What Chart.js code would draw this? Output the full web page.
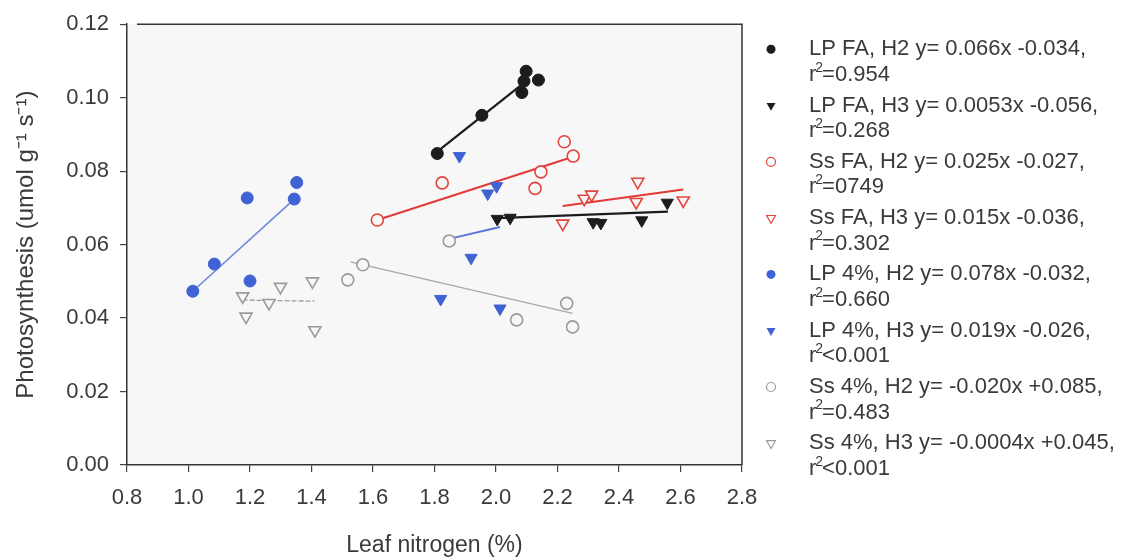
<!DOCTYPE html>
<html>
<head>
<meta charset="utf-8">
<script src="https://cdn.jsdelivr.net/npm/chart.js@4.4.1/dist/chart.umd.min.js"></script>
<style>
  html, body { margin: 0; padding: 0; background: #ffffff; }
  #wrap { width: 1126px; height: 559px; position: relative; }
</style>
</head>
<body>
<div id="wrap"><canvas id="c" width="1126" height="559"></canvas></div>
<script>
// Leaf nitrogen (%) vs photosynthesis for each treatment group
const lpFaH2X = [1.809, 1.954, 2.084, 2.091, 2.098, 2.138];
const lpFaH2Y = [0.0848, 0.0952, 0.1014, 0.1045, 0.1072, 0.1048];
const lpFaH3X = [2.004, 2.046, 2.316, 2.341, 2.474, 2.557];
const lpFaH3Y = [0.0670, 0.0673, 0.0661, 0.0659, 0.0666, 0.0714];
const ssFaH2X = [1.614, 1.825, 2.127, 2.146, 2.222, 2.251];
const ssFaH2Y = [0.0667, 0.0768, 0.0753, 0.0798, 0.0880, 0.0841];
const ssFaH3X = [2.217, 2.287, 2.311, 2.456, 2.461, 2.609];
const ssFaH3Y = [0.0657, 0.0725, 0.0736, 0.0716, 0.0771, 0.0720];
const lp4H2X = [1.014, 1.084, 1.191, 1.200, 1.344, 1.352];
const lp4H2Y = [0.0473, 0.0547, 0.0727, 0.0501, 0.0724, 0.0769];
const lp4H3X = [1.820, 1.881, 1.919, 1.973, 2.002, 2.013];
const lp4H3Y = [0.0452, 0.0841, 0.0564, 0.0739, 0.0759, 0.0426];
const ss4H2X = [1.518, 1.567, 1.848, 2.067, 2.230, 2.249];
const ss4H2Y = [0.0504, 0.0545, 0.0610, 0.0395, 0.0440, 0.0376];
const ss4H3X = [1.176, 1.187, 1.262, 1.299, 1.403, 1.411];
const ss4H3Y = [0.0459, 0.0404, 0.0441, 0.0485, 0.0500, 0.0367];

// Regression line end points (x range of each group)
const lpFaH2FitX = [1.809, 2.098];  const lpFaH2FitY = [0.0853, 0.1045];
const lpFaH3FitX = [2.004, 2.559];  const lpFaH3FitY = [0.0672, 0.0690];
const ssFaH2FitX = [1.614, 2.251];  const ssFaH2FitY = [0.0667, 0.0839];
const ssFaH3FitX = [2.217, 2.609];  const ssFaH3FitY = [0.0705, 0.0750];
const lp4H2FitX  = [1.014, 1.344];  const lp4H2FitY  = [0.0473, 0.0724];
const lp4H3FitX  = [1.855, 2.013];  const lp4H3FitY  = [0.0617, 0.0648];
const ss4H2FitX  = [1.527, 2.249];  const ss4H2FitY  = [0.0553, 0.0413];
const ss4H3FitX  = [1.176, 1.410];  const ss4H3FitY  = [0.0449, 0.0446];

// Legend text
const seriesNames = ['LP FA, H2', 'LP FA, H3', 'Ss FA, H2', 'Ss FA, H3',
                     'LP 4%, H2', 'LP 4%, H3', 'Ss 4%, H2', 'Ss 4%, H3'];
const fitEquations = ['y= 0.066x -0.034,', 'y= 0.0053x -0.056,', 'y= 0.025x -0.027,',
                      'y= 0.015x -0.036,', 'y= 0.078x -0.032,', 'y= 0.019x -0.026,',
                      'y= -0.020x +0.085,', 'y= -0.0004x +0.045,'];
const fitR2 = ['=0.954', '=0.268', '=0749', '=0.302', '=0.660', '<0.001', '=0.483', '<0.001'];

// Axis ranges
const xMin = 0.8, xMax = 2.8, xStep = 0.2;
const yMin = 0.0, yMax = 0.12, yStep = 0.02;

const pts = (xs, ys) => xs.map((v, i) => ({ x: v, y: ys[i] }));

const BLACK = '#1c1c1c', RED = '#e2453d', BLUE = '#3f62d4', GRAY = '#9a9a9a';
const series = [
  { x: lpFaH2X, y: lpFaH2Y, fx: lpFaH2FitX, fy: lpFaH2FitY, shape: 'circle',   color: BLACK, filled: true,  lineColor: '#1c1c1c', lw: 2.2 },
  { x: lpFaH3X, y: lpFaH3Y, fx: lpFaH3FitX, fy: lpFaH3FitY, shape: 'triangle', color: BLACK, filled: true,  lineColor: '#1c1c1c', lw: 2.2 },
  { x: ssFaH2X, y: ssFaH2Y, fx: ssFaH2FitX, fy: ssFaH2FitY, shape: 'circle',   color: RED,   filled: false, lineColor: '#e23a36', lw: 2.0 },
  { x: ssFaH3X, y: ssFaH3Y, fx: ssFaH3FitX, fy: ssFaH3FitY, shape: 'triangle', color: RED,   filled: false, lineColor: '#e23a36', lw: 2.0 },
  { x: lp4H2X,  y: lp4H2Y,  fx: lp4H2FitX,  fy: lp4H2FitY,  shape: 'circle',   color: BLUE,  filled: true,  lineColor: '#6f88d8', lw: 1.6 },
  { x: lp4H3X,  y: lp4H3Y,  fx: lp4H3FitX,  fy: lp4H3FitY,  shape: 'triangle', color: BLUE,  filled: true,  lineColor: '#5675d6', lw: 2.0 },
  { x: ss4H2X,  y: ss4H2Y,  fx: ss4H2FitX,  fy: ss4H2FitY,  shape: 'circle',   color: GRAY,  filled: false, lineColor: '#a8a8a8', lw: 1.3 },
  { x: ss4H3X,  y: ss4H3Y,  fx: ss4H3FitX,  fy: ss4H3FitY,  shape: 'triangle', color: GRAY,  filled: false, lineColor: '#9c9c9c', lw: 1.3, dash: [5, 2] }
];

const PLOT_BG = '#f7f7f7';
const datasets = [];
series.forEach((s, i) => {
  datasets.push({
    label: seriesNames[i] + ' fit',
    data: pts(s.fx, s.fy),
    showLine: true,
    borderColor: s.lineColor,
    borderWidth: s.lw,
    borderDash: s.dash || [],
    pointRadius: 0,
    pointHoverRadius: 0,
    fill: false,
    order: 2
  });
  datasets.push({
    label: seriesNames[i],
    data: pts(s.x, s.y),
    showLine: false,
    pointStyle: s.shape,
    pointRotation: s.shape === 'triangle' ? 180 : 0,
    pointRadius: s.shape === 'triangle' ? 7 : 6,
    pointBorderWidth: s.filled ? 1 : 1.6,
    pointBackgroundColor: s.filled ? s.color : PLOT_BG,
    pointBorderColor: s.color,
    order: 1
  });
});

const FONT = '"Liberation Sans", Arial, Helvetica, sans-serif';
const TEXT = '#3a3a3a';

// Light plot background and the top/right frame lines
const plotFrame = {
  id: 'plotFrame',
  beforeDraw(chart) {
    const { ctx, chartArea: a } = chart;
    ctx.save();
    ctx.fillStyle = PLOT_BG;
    ctx.fillRect(a.left, a.top, a.right - a.left, a.bottom - a.top);
    ctx.restore();
  },
  beforeDatasetsDraw(chart) {
    const { ctx, chartArea: a } = chart;
    ctx.save();
    ctx.strokeStyle = '#333';
    ctx.lineWidth = 1.5;
    ctx.beginPath();
    ctx.moveTo(a.left + 10, a.top);
    ctx.lineTo(a.right, a.top);
    ctx.lineTo(a.right, a.bottom);
    ctx.stroke();
    ctx.restore();
  }
};

function drawMarker(ctx, s, x, y, r) {
  ctx.beginPath();
  if (s.shape === 'circle') {
    ctx.arc(x, y, r, 0, Math.PI * 2);
  } else {
    const a0 = Math.PI; // pointing down
    for (let k = 0; k < 3; k++) {
      const ang = a0 + k * 2 * Math.PI / 3;
      const px = x + Math.sin(ang) * r * 1.15;
      const py = y - Math.cos(ang) * r * 1.15;
      if (k === 0) ctx.moveTo(px, py); else ctx.lineTo(px, py);
    }
    ctx.closePath();
  }
  if (s.filled) { ctx.fillStyle = s.color; ctx.fill(); }
  else { ctx.fillStyle = '#ffffff'; ctx.fill(); ctx.lineWidth = 1.2; ctx.strokeStyle = s.color; ctx.stroke(); }
}

// Two-line legend to the right of the plot
const sideLegend = {
  id: 'sideLegend',
  afterDraw(chart) {
    const { ctx, chartArea: a } = chart;
    const markerX = a.right + 29;
    const textX = a.right + 67;
    const top = a.top + 25;
    const rowGap = 56.3, lineGap = 25.5;
    ctx.save();
    ctx.textBaseline = 'middle';
    ctx.textAlign = 'left';
    series.forEach((s, i) => {
      const y = top + i * rowGap;
      drawMarker(ctx, s, markerX, y, 4.5);
      ctx.fillStyle = TEXT;
      ctx.font = '22px ' + FONT;
      ctx.fillText(seriesNames[i] + ' ' + fitEquations[i], textX, y);
      const y2 = y + lineGap;
      ctx.fillText('r', textX, y2);
      const wr = ctx.measureText('r').width;
      ctx.font = '14px ' + FONT;
      ctx.fillText('2', textX + wr - 1, y2 - 7);
      const w2 = ctx.measureText('2').width;
      ctx.font = '22px ' + FONT;
      ctx.fillText(fitR2[i], textX + wr + w2 - 2, y2);
    });
    ctx.restore();
  }
};

new Chart(document.getElementById('c'), {
  type: 'scatter',
  data: { datasets },
  options: {
    responsive: false,
    animation: false,
    devicePixelRatio: 1,
    layout: { padding: { top: 24, right: 384, bottom: 0, left: 0 } },
    plugins: { legend: { display: false }, tooltip: { enabled: false } },
    scales: {
      x: {
        type: 'linear',
        min: xMin, max: xMax,
        afterFit(scale) { scale.height = 94; },
        ticks: {
          stepSize: xStep,
          padding: 13,
          color: TEXT,
          font: { family: FONT, size: 22 },
          callback: v => Number(v).toFixed(1)
        },
        grid: { drawOnChartArea: false, drawTicks: true, tickLength: 7, color: '#444', lineWidth: 1.2 },
        border: { display: true, color: '#333', width: 1.5 },
        title: {
          display: true,
          text: 'Leaf nitrogen (%)',
          color: TEXT,
          font: { family: FONT, size: 23 },
          padding: { top: 0, bottom: 0 }
        }
      },
      y: {
        type: 'linear',
        min: yMin, max: yMax,
        afterFit(scale) { scale.width = 127; },
        ticks: {
          stepSize: yStep,
          padding: 11,
          color: TEXT,
          font: { family: FONT, size: 22 },
          callback: v => Number(v).toFixed(2)
        },
        grid: { drawOnChartArea: false, drawTicks: true, tickLength: 7, color: '#444', lineWidth: 1.2 },
        border: { display: true, color: '#333', width: 1.5 },
        title: {
          display: true,
          text: 'Photosynthesis (umol g\u207B\u00B9 s\u207B\u00B9)',
          color: TEXT,
          font: { family: FONT, size: 24 },
          padding: { top: 12, bottom: 0 }
        }
      }
    }
  },
  plugins: [plotFrame, sideLegend]
});
</script>
</body>
</html>
